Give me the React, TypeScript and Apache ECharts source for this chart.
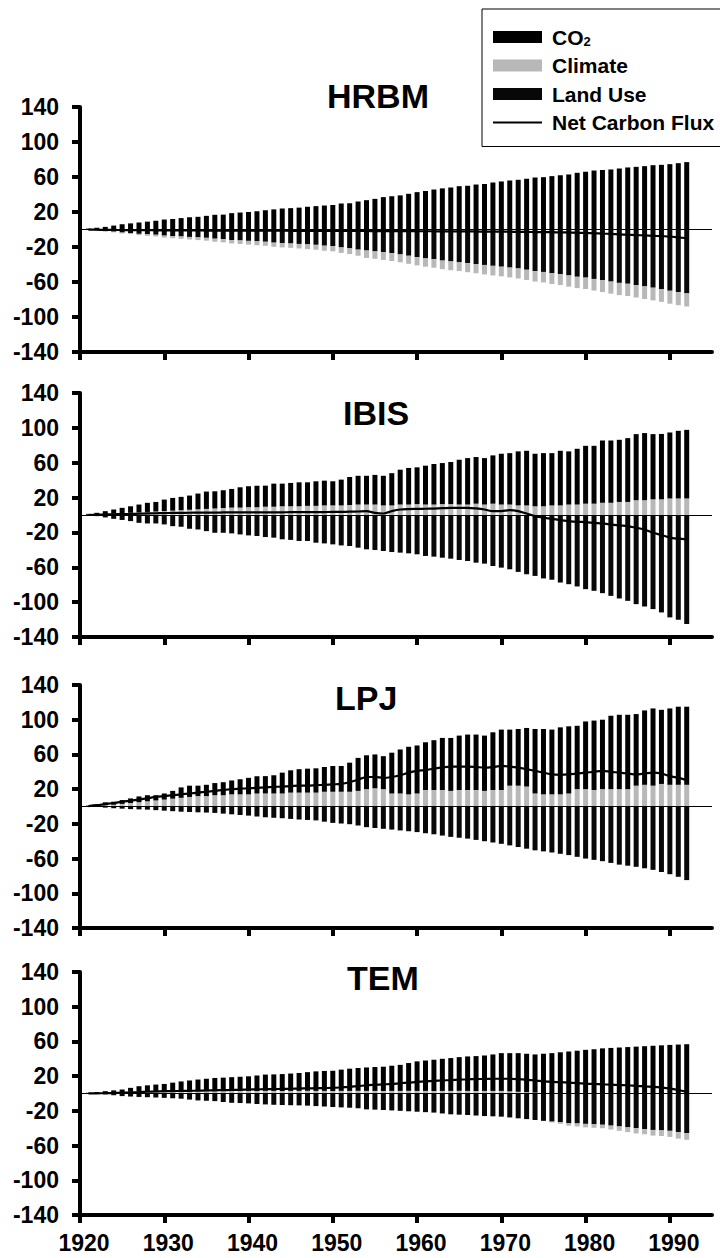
import React, { useEffect, useRef } from "react";
import * as echarts from "echarts";

// ---------- data (Tg C / yr), one value per year 1921..1992 ----------
const firstYear = 1921;
const axisStartYear = 1920;
const axisEndYear = 1995;
const xTickLabels = ["1920", "1930", "1940", "1950", "1960", "1970", "1980", "1990"];
const yMin = -140;
const yMax = 140;
const yStep = 40;
const modelNames = ["HRBM", "IBIS", "LPJ", "TEM"];
const legendNames = ["CO2", "Climate", "Land Use", "Net Carbon Flux"];

// HRBM
const co2HRBM = [1, 2, 3, 4.5, 6, 7, 8, 9, 10, 11.4, 12, 13, 14, 14.5, 15.6, 16.8, 17, 18.7, 19.4, 20,
  21, 22, 23, 24, 24.4, 25, 26, 26.7, 27.4, 28, 29.7, 30, 32, 33.5, 35, 37, 38, 39, 40.8, 42.7,
  44, 45.7, 47, 48, 49.5, 50, 51.4, 52, 53.7, 54.9, 56, 56.8, 58, 59.4, 59.8, 61, 62, 62.9, 64.8, 66,
  67.4, 68, 68.6, 69.7, 70.9, 71.6, 72.4, 73.5, 73.9, 74.7, 75.8, 77];
const climateHRBM = [-0.2, -0.4, -0.6, -0.8, -1, -1.3, -1.5, -1.8, -2, -2.3, -2.5, -2.7, -2.9, -3.1, -3.3, -3.5, -3.7, -3.9, -4.1, -4.3,
  -4.5, -4.6, -4.8, -5, -5, -5.2, -5.4, -5.6, -5.8, -6, -6.3, -6.6, -7, -8.5, -8.5, -8.8, -9, -9, -9.2, -9.5,
  -9.5, -9.7, -9.8, -10, -10, -10.3, -10.5, -10.8, -11, -11, -11.2, -11.5, -11.7, -12, -12, -12.3, -12.5, -12.8, -13, -13,
  -13.3, -13.5, -13.8, -14, -14, -14.2, -14.4, -14.5, -14.7, -14.8, -15, -15];
const landUseHRBM = [-0.5, -1, -1.8, -2.5, -3.5, -4, -5, -5.5, -6, -7, -7.5, -8, -8.5, -9, -9.5, -10.5, -11, -12, -12.5, -13,
  -13.5, -14, -15, -15.5, -16, -16.5, -17, -17.5, -18.5, -19, -20.5, -21.5, -23, -24, -25, -26, -27, -28.5, -30, -31.5,
  -33, -34, -35.5, -36.5, -37.5, -38.5, -39.5, -40.5, -41.5, -42.5, -43.5, -44.5, -46, -47.5, -48.5, -50, -51, -52.5, -54, -55,
  -56.5, -58, -59.5, -61, -62, -63.5, -65, -66.5, -68, -70, -71.5, -73];
const netHRBM = [-0.2, -0.3, -0.4, -0.5, -0.6, -0.7, -0.8, -0.8, -0.9, -1, -1, -1, -1.1, -1.1, -1.2, -1.2, -1.2, -1.3, -1.3, -1.3,
  -1.3, -1.4, -1.4, -1.4, -1.5, -1.5, -1.5, -1.5, -1.6, -1.6, -1.6, -1.7, -1.7, -1.7, -1.8, -1.8, -1.8, -1.9, -1.9, -2,
  -2, -2, -2.1, -2.1, -2.2, -2.2, -2.3, -2.4, -2.5, -2.5, -2.6, -2.7, -2.8, -2.9, -3, -3.1, -3.3, -3.5, -3.8, -4,
  -4.3, -4.7, -5, -5.5, -6, -6.4, -6.8, -7.2, -7.6, -8, -9, -10];

// IBIS
const co2IBIS = [1, 1.9, 3.4, 4.8, 6.2, 7.5, 9, 10.5, 11, 13.2, 14.6, 15.3, 16.3, 18.1, 19.9, 19.7, 20.4, 21.4, 23.3, 24,
  24.7, 24.2, 26.5, 26, 26.8, 27.5, 27, 28.2, 28.4, 27.7, 29.6, 32.1, 33, 33, 34, 34, 37, 40, 42, 42.2,
  44.6, 46.5, 47.1, 48.3, 51.4, 53.3, 53.5, 53.3, 55.4, 58.3, 59, 62, 62.7, 60.3, 61, 60, 62.7, 61, 64, 66.4,
  66.4, 71.5, 71.5, 71.3, 73.2, 75.8, 77, 74.8, 75, 75.7, 77.6, 78.7];
const climateIBIS = [0.3, 0.6, 1, 1.5, 2, 2.5, 3, 3.5, 4, 4.5, 5, 5.5, 6, 6.5, 7, 7.5, 8, 8.5, 8.5, 9,
  9, 9.5, 9.5, 10, 10, 10, 10.5, 10.5, 11, 11, 11, 11.5, 12, 12, 12, 11, 11, 12, 12, 12.5,
  12, 12, 12.5, 12.5, 12, 12, 13, 12, 13, 12, 12, 11, 11, 10, 10, 11, 11, 12, 12, 13,
  13, 14, 14, 15, 15, 17, 17, 18, 18, 19, 19, 19];
const landUseIBIS = [-0.6, -1.3, -2.8, -4.4, -5.7, -7, -9, -9.7, -9.7, -10.8, -12.8, -13.5, -15.8, -16.6, -18.5, -20.4, -20.4, -21.1, -22.3, -23.4,
  -24.2, -25.3, -26, -27.9, -28.6, -29.8, -29.8, -31.8, -32.6, -33.7, -34.9, -35.6, -37.5, -39.4, -40.2, -41.3, -42.5, -43.2, -44, -45.1,
  -47, -47.8, -49, -50.1, -51.6, -52.8, -54.7, -55.8, -58.5, -60.4, -62.3, -65.3, -68, -69.9, -72.8, -74.3, -77.5, -79.4, -82, -85.1,
  -87, -89.7, -92.8, -95.8, -98.5, -102.3, -105, -108, -111.8, -117.5, -120.2, -125.1];
const netIBIS = [0, 0.2, 0.5, 0.8, 1, 1.2, 1.5, 1.8, 2, 2.2, 2.4, 2.5, 2.6, 2.7, 2.8, 2.8, 2.9, 3, 3, 3,
  3, 3, 3, 3.1, 3.2, 3.2, 3.3, 3.3, 3.4, 3.5, 3.6, 3.8, 4, 4.4, 2.5, 1.7, 4.4, 6.3, 6.8, 7,
  7.2, 7.4, 7.8, 8.2, 8.2, 8.2, 7.5, 6.3, 4.4, 4.4, 5.5, 4.4, 1.7, -1.3, -3.2, -4.4, -5.9, -7, -7.8, -8.2,
  -9, -9.7, -10.9, -12, -12.8, -14.7, -16.6, -20.4, -23, -26, -27.2, -28];

// LPJ
const co2LPJ = [0.5, 1, 3.3, 3.5, 4.4, 5.3, 6.6, 7, 6, 7, 9, 12, 13, 12, 13, 14, 15, 16, 17.4, 19,
  20, 20, 21, 24, 25.7, 27, 27.6, 28, 28.5, 29.7, 29.7, 33.5, 38, 39, 39, 38, 47, 50.7, 54.8, 55.3,
  55, 57.4, 60, 61, 62.7, 63.9, 63.9, 63.7, 66.5, 69.6, 64.6, 65.3, 67.5, 74.3, 75.3, 74.6, 77.2, 77.4, 73, 78,
  80, 80, 84.6, 85.7, 85.7, 82.5, 85.7, 89, 85.4, 88, 90, 90];
const climateLPJ = [0.5, 1, 1.5, 2, 3, 4, 5, 6, 7, 8, 9, 10, 11, 12, 12, 13, 13, 14, 14, 14,
  15, 15, 15, 15, 16, 16, 16, 16, 17, 17, 17, 17, 18, 20, 21, 20, 15, 15, 14, 15,
  19, 19, 19, 18, 19, 19, 19, 18, 19, 19, 24, 24, 23, 15, 14, 14, 14, 15, 20, 20,
  19, 20, 20, 20, 20, 24, 25, 24, 26, 25, 25, 25];
const landUseLPJ = [-0.3, -0.6, -1.3, -2, -2.5, -3, -3.3, -3.6, -4.2, -4.8, -5.4, -6, -6.3, -6.7, -7, -7.4, -8.2, -9, -9.8, -10.5,
  -11.5, -12.4, -13, -13.5, -14.3, -15, -15.5, -16, -17.5, -18.9, -19.6, -20.4, -21.9, -23.8, -24.8, -25.7, -26.6, -27.6, -28.5, -29.5,
  -30.8, -32, -33.5, -35, -36, -37, -38.5, -40, -41.5, -43, -44.8, -46.7, -48.6, -50.5, -51.7, -53, -54.5, -56, -58, -60,
  -61.5, -63, -65, -67, -68.2, -69.5, -71.2, -73, -75.5, -78, -81, -84.8];
const netLPJ = [0.5, 1.5, 2.8, 4, 5.5, 6.7, 8, 9.5, 11, 12, 13, 14, 15, 16, 17, 18, 19, 20, 20.5, 21,
  21.5, 22, 22.5, 23, 23.5, 24, 24, 24.5, 25, 25.5, 26, 28, 31, 34, 34, 33, 34, 36, 39, 41,
  42, 43.6, 45, 46, 46, 46, 45.5, 44.8, 45.5, 46.7, 46, 44.8, 43, 41, 39, 37, 36.5, 37, 38, 39,
  40, 41, 40, 39, 38, 37, 38, 39, 38, 35, 33, 30.6];

// TEM
const co2TEM = [0.5, 1.1, 1.7, 2.3, 3, 4.5, 6.2, 7, 7.7, 8.2, 9.5, 11, 12, 13, 14, 15, 15.3, 15.7, 16.3, 16.8,
  17.8, 18.7, 19, 19.5, 20, 20.6, 21.5, 22.5, 23, 23.3, 24.5, 25.6, 26.3, 27, 27.5, 28, 29, 30, 32, 34,
  35, 36, 37, 37.8, 38.8, 39.7, 40.2, 40.8, 42, 43.5, 44, 44.5, 44.3, 44, 45.3, 46.5, 47.5, 48.4, 49.3, 50.3,
  51, 52, 52.5, 53, 53.5, 54, 54.5, 55, 55.5, 56, 56.4, 56.8];
const climateTEM = [0.3, 0.6, 1, 1.3, 1.6, 2, 2.2, 2.4, 2.6, 2.8, 3, 2.9, 3, 3.1, 3, 2.9, 3, 3.1, 3, 3,
  3, 3.1, 3, 2.9, 3, 3, 3.1, 3, 3, 2.9, 3, 3, 3.1, 3, 3, 2.9, 3, 3, 3.1, 3,
  3, 2.9, 3, 3, 3.1, 3, 2.9, 3, 3, 3, 2.5, 2, 1.5, 1, 0.5, -1, -2, -3, -3.5, -4,
  -4, -4, -4.5, -5, -5.5, -6, -6, -6.5, -6.5, -7, -7.5, -7.6];
const landUseTEM = [-0.3, -0.6, -1, -2, -3, -3.5, -4, -4.3, -4.6, -5, -5.5, -6, -7, -8, -8.4, -8.8, -9.8, -10.7, -11, -11.4,
  -12, -12.6, -13, -13.3, -13.5, -13.7, -14, -14.5, -15, -15.6, -16, -16.4, -17, -18.3, -18.6, -19, -19.5, -20, -20.5, -21,
  -21.5, -22, -23, -24, -24.4, -24.8, -25.4, -26, -26.3, -26.7, -27.6, -28.6, -29.5, -30.5, -31.5, -32.4, -33, -34, -34.5, -35,
  -35.5, -36, -37, -38, -39, -40, -41, -42, -42.5, -43, -44.5, -45.7];
const netTEM = [0.1, 0.2, 0.4, 0.6, 1, 1.3, 1.6, 2, 2.3, 2.7, 2.8, 3, 3.1, 3.3, 3.5, 3.7, 3.9, 4.1, 4.3, 4.6,
  4.8, 5, 5.1, 5.3, 5.5, 5.7, 5.9, 6.1, 6.3, 6.5, 7, 7.6, 8.4, 9.5, 10, 10.5, 11, 11.8, 12.5, 13.3,
  14, 14.5, 15, 15.5, 16, 16.3, 16.6, 16.8, 17, 17, 17, 16.5, 15.8, 15, 14, 13.3, 13, 12.5, 12, 11.4,
  11, 10.5, 10.2, 9.8, 9.5, 8.8, 8.2, 7.6, 6.8, 5.7, 4, 1.9];

const co2Sets = [co2HRBM, co2IBIS, co2LPJ, co2TEM];
const climateSets = [climateHRBM, climateIBIS, climateLPJ, climateTEM];
const landUseSets = [landUseHRBM, landUseIBIS, landUseLPJ, landUseTEM];
const netSets = [netHRBM, netIBIS, netLPJ, netTEM];

// ---------- layout / style ----------
const FONT = '"Liberation Sans", Arial, Helvetica, sans-serif';
const GRID_LEFT = 80;
const GRID_RIGHT = 8;
const gridTops = [107, 393, 685, 972];
const gridHeights = [245, 244, 243, 243];
const titleLefts = [327, 343, 335, 347];
const titleTops = [79, 396, 681, 961];
const COLOR_CO2 = "#000000";
const COLOR_CLIMATE = "#b8b8b8";
const COLOR_LAND = "#080808";

const allYears: string[] = [];
for (let y = axisStartYear; y <= axisEndYear; y++) allYears.push(String(y));

function place(values: (number | null)[]) {
  const out: (number | null)[] = allYears.map(() => null);
  values.forEach((v, i) => {
    const idx = firstYear - axisStartYear + i;
    out[idx] = v;
  });
  return out;
}

const isDecade = (_i: number, v: string) => xTickLabels.includes(String(v));

export default function App() {
  const ref = useRef<HTMLDivElement>(null);
  useEffect(() => {
    if (!ref.current) return;
    const chart = echarts.init(ref.current, null, { renderer: "svg" });

    const grids: any[] = [];
    const xAxes: any[] = [];
    const yAxes: any[] = [];
    const series: any[] = [];
    const titles: any[] = [];

    modelNames.forEach((m, i) => {
      grids.push({
        left: GRID_LEFT,
        right: GRID_RIGHT,
        top: gridTops[i],
        height: gridHeights[i],
        containLabel: false,
        outerBoundsMode: "none",
      });
      titles.push({
        text: m,
        left: titleLefts[i],
        top: titleTops[i],
        padding: 0,
        textStyle: { fontFamily: FONT, fontSize: 34, fontWeight: "bold", color: "#000" },
      });
      xAxes.push({
        type: "category",
        gridIndex: i,
        data: allYears,
        boundaryGap: false,
        axisLine: { show: true, onZero: false, lineStyle: { color: "#000", width: 4 } },
        axisTick: { show: true, length: 8, interval: isDecade, lineStyle: { color: "#000", width: 4 } },
        axisLabel: {
          show: i === 3,
          interval: isDecade,
          fontFamily: FONT,
          fontSize: 23,
          fontWeight: "bold",
          color: "#000",
          margin: 16,
          padding: [0, 0, 0, 8],
        },
        splitLine: { show: false },
      });
      yAxes.push({
        type: "value",
        gridIndex: i,
        min: yMin,
        max: yMax,
        interval: yStep,
        axisLine: { show: true, onZero: false, lineStyle: { color: "#000", width: 4 } },
        axisTick: { show: true, length: 8, lineStyle: { color: "#000", width: 4 } },
        axisLabel: { fontFamily: FONT, fontSize: 23, fontWeight: "bold", color: "#000", margin: 21 },
        splitLine: { show: false },
      });
      const clim = climateSets[i];
      const climPos = clim.map((v) => (v > 0 ? v : null));
      const climNeg = clim.map((v) => (v < 0 ? v : null));
      const common = { type: "bar", xAxisIndex: i, yAxisIndex: i, stack: "s" + i, barWidth: 5 };
      series.push({ ...common, name: legendNames[1], data: place(climPos), itemStyle: { color: COLOR_CLIMATE } });
      series.push({ ...common, name: legendNames[0], data: place(co2Sets[i]), itemStyle: { color: COLOR_CO2 } });
      series.push({ ...common, name: legendNames[2], data: place(landUseSets[i]), itemStyle: { color: COLOR_LAND } });
      series.push({ ...common, name: legendNames[1], data: place(climNeg), itemStyle: { color: COLOR_CLIMATE } });
      series.push({
        type: "line",
        name: legendNames[3],
        xAxisIndex: i,
        yAxisIndex: i,
        data: place(netSets[i]),
        smooth: 0.3,
        symbol: "none",
        showSymbol: false,
        connectNulls: false,
        z: 5,
        lineStyle: { color: "#000", width: 2.2 },
        itemStyle: { color: "#000" },
        markLine: {
          silent: true,
          symbol: ["none", "none"],
          label: { show: false },
          lineStyle: { color: "#000", width: 1, type: "solid" },
          data: [{ yAxis: 0 }],
        },
      });
    });

    chart.setOption({
      animation: false,
      backgroundColor: "#fff",
      title: titles,
      grid: grids,
      xAxis: xAxes,
      yAxis: yAxes,
      legend: {
        show: true,
        orient: "vertical",
        left: 482,
        top: 9,
        padding: [17, 10, 13, 11],
        itemGap: 6.5,
        itemWidth: 49,
        itemHeight: 12,
        borderColor: "#000",
        borderWidth: 1,
        selectedMode: false,
        data: [
          { name: legendNames[0], icon: "rect" },
          { name: legendNames[1], icon: "rect" },
          { name: legendNames[2], icon: "rect" },
          { name: legendNames[3], icon: "path://M0,0H49V2H0Z", itemStyle: { color: "#000" } },
        ],
        formatter: (name: string) => (name === "CO2" ? "{m|CO}{s|2}" : name),
        textStyle: {
          fontFamily: FONT,
          fontSize: 21,
          fontWeight: "bold",
          color: "#000",
          lineHeight: 22,
          padding: [0, 0, 0, 5],
          rich: {
            m: { fontFamily: FONT, fontSize: 21, fontWeight: "bold", color: "#000", lineHeight: 22 },
            s: { fontFamily: FONT, fontSize: 13, fontWeight: "bold", color: "#000", lineHeight: 12, verticalAlign: "bottom" },
          },
        },
      },
      series,
    });
    return () => chart.dispose();
  }, []);
  return <div ref={ref} style={{ position: "absolute", left: 0, top: 0, width: 720, height: 1258 }} />;
}
